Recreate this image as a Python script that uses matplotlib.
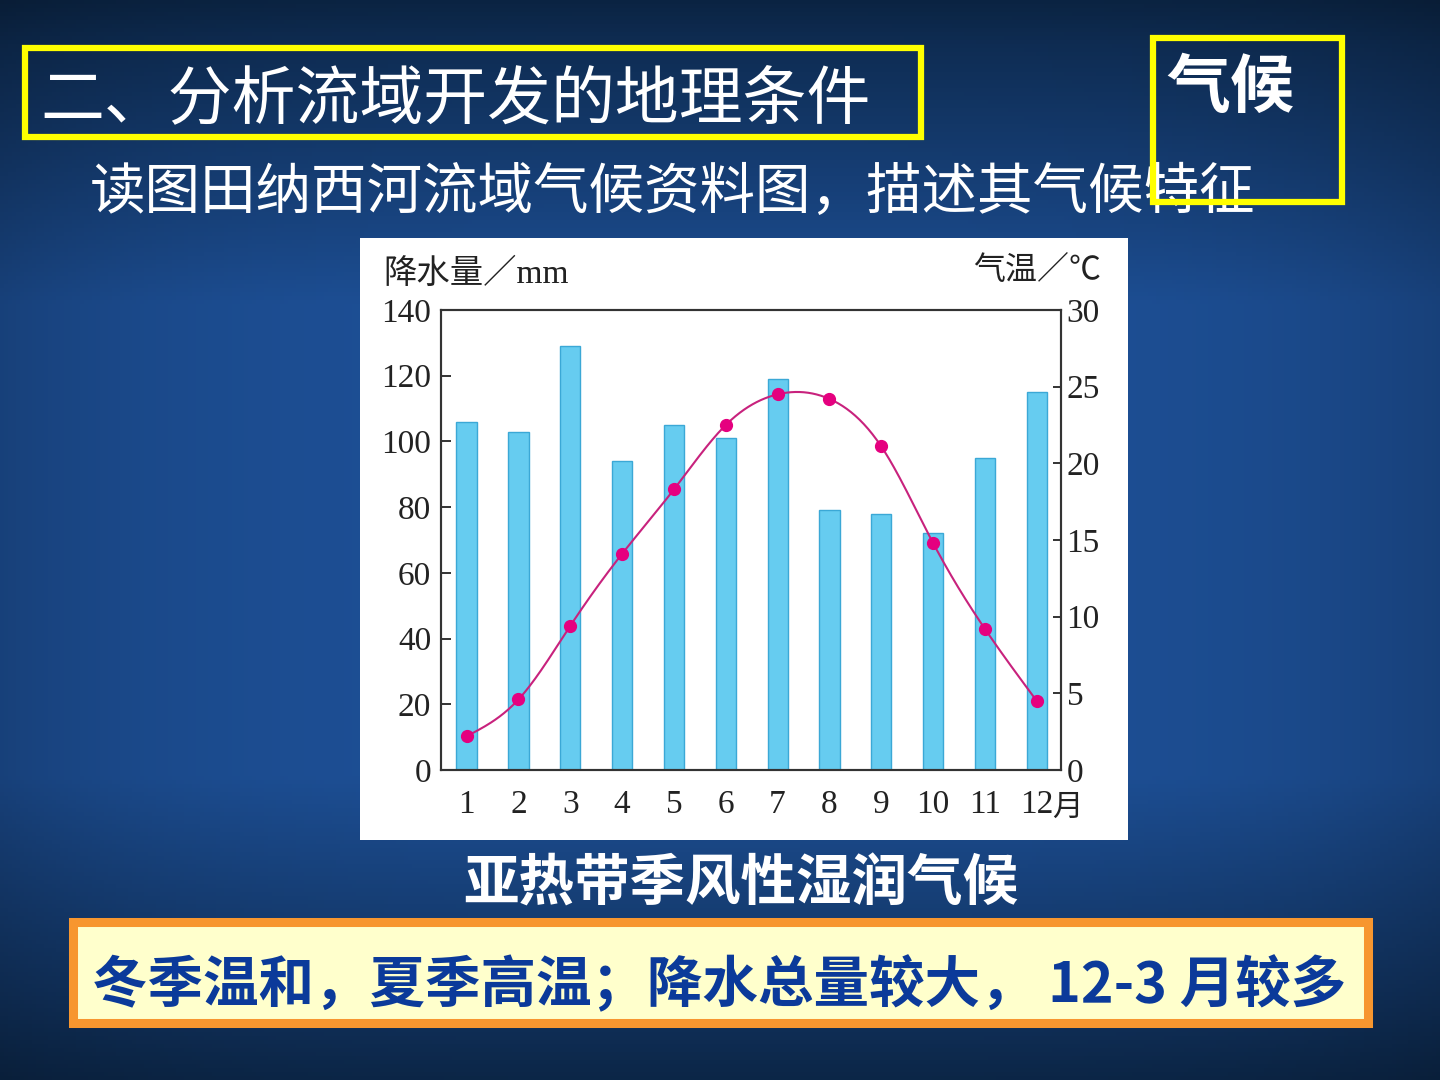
import numpy as np
import matplotlib
matplotlib.use("Agg")
import matplotlib.pyplot as plt
import matplotlib.transforms as mtransforms
from matplotlib.patches import Rectangle
from matplotlib.colors import to_rgb

# ---------------- data ----------------
months = [1, 2, 3, 4, 5, 6, 7, 8, 9, 10, 11, 12]
month_labels = ["1", "2", "3", "4", "5", "6", "7", "8", "9", "10", "11", "12"]
precip_mm = [106, 103, 129, 94, 105, 101, 119, 79, 78, 72, 95, 115]
temp_c = [2.2, 4.6, 9.4, 14.1, 18.3, 22.5, 24.5, 24.2, 21.1, 14.8, 9.2, 4.5]
precip_ticks = [0, 20, 40, 60, 80, 100, 120, 140]
temp_ticks = [0, 5, 10, 15, 20, 25, 30]

title_text = "二、分析流域开发的地理条件"
subtitle_text = "读图田纳西河流域气候资料图，描述其气候特征"
box_text = "气候"
climate_text = "亚热带季风性湿润气候"
answer_text = "冬季温和，夏季高温；降水总量较大， 12-3 月较多"
left_axis_title = "降水量／mm"
right_axis_title = "气温／℃"

CJK = ["Noto Sans CJK SC", "DejaVu Sans"]
SERIF_CJK = ["Liberation Serif", "Noto Sans CJK SC"]

W, H = 1440, 1080
fig = plt.figure(figsize=(14.4, 10.8), dpi=100)


def fx(x):
    return x / W


def fy(y):
    return 1 - y / H


def frect(x0, y0, x1, y1, **kw):
    r = Rectangle((fx(x0), fy(y1)), (x1 - x0) / W, (y1 - y0) / H,
                  transform=fig.transFigure, **kw)
    fig.patches.append(r)
    return r


# ---------------- background ----------------
bg = fig.add_axes([0, 0, 1, 1])
bg.set_zorder(-10)
bg.axis("off")
ny, nx = 270, 360
yy = np.linspace(0, 1, ny)[:, None]
xx = np.linspace(0, 1, nx)[None, :]
top = np.array(to_rgb("#0b2443"))
mid = np.array(to_rgb("#1d4f95"))
prof = np.interp(yy, [0, 0.04, 0.28, 0.72, 0.92, 1.0], [0.0, 0.2, 1.0, 1.0, 0.35, 0.05])
edge = 1 - 0.18 * (np.abs(xx - 0.5) * 2) ** 4
img = (top[None, None, :] + (mid - top)[None, None, :] * prof[..., None]) * edge[..., None]
bg.imshow(np.clip(img, 0, 1), extent=[0, 1, 0, 1], aspect="auto", origin="upper")
bg.set_xlim(0, 1)
bg.set_ylim(0, 1)

# ---------------- slide boxes and texts ----------------
frect(25, 48, 921, 137, fill=False, ec="#FFFF00", lw=4.5, zorder=1)
fig.text(fx(40), fy(100), title_text, fontsize=46, color="white", family=CJK,
         ha="left", va="center", zorder=2)

fig.text(fx(90), fy(193), subtitle_text, fontsize=40, color="white", family=CJK,
         ha="left", va="center", zorder=2)

frect(1153, 38, 1342, 202, fill=False, ec="#FFFF00", lw=4.5, zorder=3)
fig.text(fx(1166), fy(88), box_text, fontsize=46, color="white", family=CJK,
         weight="bold", ha="left", va="center", zorder=2)

# chart panel
frect(360, 238, 1128, 840, fc="white", ec="none", zorder=1)

fig.text(fx(741), fy(885), climate_text, fontsize=40, color="white", family=CJK,
         weight="bold", ha="center", va="center", zorder=2)

frect(72.5, 921.5, 1367.5, 1022.5, fc="#FFFFCC", ec="#F7962F", lw=6.5, zorder=1)
fig.text(fx(92), fy(985), answer_text, fontsize=40, color="#0B3A9A", family=CJK,
         weight="bold", ha="left", va="center", zorder=2)

# ---------------- chart ----------------
ax = fig.add_axes([fx(441), fy(770), 620 / W, 460 / H])
ax.set_zorder(5)
ax.set_facecolor("white")
ax.bar(months, precip_mm, width=0.39, color="#66CCF0", edgecolor="#3BA8D6", lw=1.0, zorder=2)
ax.set_xlim(0.506, 12.467)
ax.set_ylim(0, 140)
ax.set_yticks(precip_ticks)
ax.set_yticklabels([str(t) for t in precip_ticks], family="Liberation Serif", color="#222222")
ax.set_xticks(months)
ax.set_xticklabels(month_labels, family="Liberation Serif", color="#222222")
ax.tick_params(axis="y", direction="in", length=7, width=1.4, pad=7, labelsize=24, color="#333333")
ax.tick_params(axis="x", length=0, pad=14, labelsize=24)
for s in ax.spines.values():
    s.set_color("#333333")
    s.set_linewidth(1.5)

ax2 = ax.twinx()
ax2.set_zorder(6)
ax2.patch.set_visible(False)
ax2.set_ylim(0, 30)
ax2.set_yticks(temp_ticks)
ax2.set_yticklabels([str(t) for t in temp_ticks], family="Liberation Serif", color="#222222")
ax2.tick_params(axis="y", direction="in", length=6, width=1.4, pad=4, labelsize=24, color="#333333")
for s in ax2.spines.values():
    s.set_color("#333333")
    s.set_linewidth(1.5)


def natural_cubic(x, y, xs):
    x = np.asarray(x, float)
    y = np.asarray(y, float)
    n = len(x)
    h = np.diff(x)
    A = np.zeros((n, n))
    r = np.zeros(n)
    A[0, 0] = 1
    A[-1, -1] = 1
    for i in range(1, n - 1):
        A[i, i - 1] = h[i - 1]
        A[i, i] = 2 * (h[i - 1] + h[i])
        A[i, i + 1] = h[i]
        r[i] = 3 * ((y[i + 1] - y[i]) / h[i] - (y[i] - y[i - 1]) / h[i - 1])
    c = np.linalg.solve(A, r)
    b = (y[1:] - y[:-1]) / h - h * (2 * c[:-1] + c[1:]) / 3
    d = (c[1:] - c[:-1]) / (3 * h)
    idx = np.clip(np.searchsorted(x, xs) - 1, 0, n - 2)
    dx = xs - x[idx]
    return y[idx] + b[idx] * dx + c[idx] * dx ** 2 + d[idx] * dx ** 3


xs = np.linspace(months[0], months[-1], 400)
ax2.plot(xs, natural_cubic(months, temp_c, xs), color="#C8227D", lw=1.5, zorder=3)
ax2.plot(months, temp_c, "o", ms=8.5, color="#E5007F", ls="none", zorder=4)

# axis titles
fig.text(fx(383), fy(274), left_axis_title, fontsize=24, family=SERIF_CJK, color="#222222",
         ha="left", va="center", zorder=7)
fig.text(fx(1101), fy(271), right_axis_title, fontsize=23, family=SERIF_CJK, color="#222222",
         ha="right", va="center", zorder=7)
ax.text(12.3, -0.081, "月",
        transform=mtransforms.blended_transform_factory(ax.transData, ax.transAxes),
        fontsize=22, family=CJK, color="#222222", ha="left", va="center", clip_on=False)

fig.savefig("out.png", dpi=100)
